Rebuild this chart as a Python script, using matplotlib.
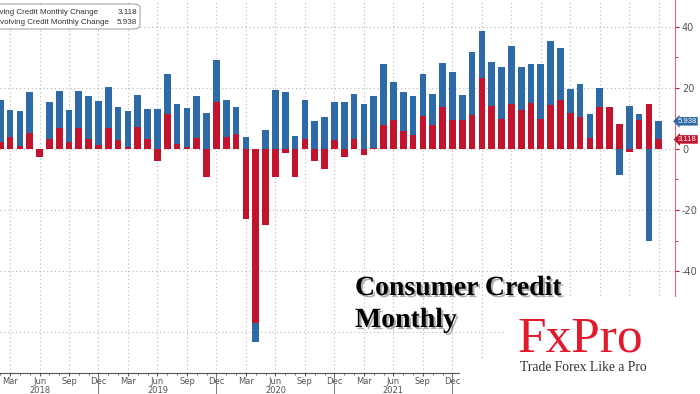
import numpy as np
import matplotlib
matplotlib.use("Agg")
import matplotlib.pyplot as plt
import matplotlib.patheffects as pe
from matplotlib.patches import FancyBboxPatch, Rectangle
from matplotlib.lines import Line2D

# month index: 0 = Jan 2018 ... bars run Feb 2018 -> Sep 2023
months = list(range(1, 69))
revolving = [2.4, 3.9, 1.1, 5.2, -2.5, 3.1, 6.8, 2.4, 7.0, 3.4, 1.2,
             7.0, 3.0, 0.8, 7.1, 3.2, -3.8, 11.4, 1.5, 0.8, 3.5, -9.3, 15.5,
             3.9, 4.9, -23.0, -57.0, -24.9, -9.1, -1.2, -9.1, 3.2, -3.8, -6.6, 2.8,
             -2.7, 3.1, -2.0, 0.3, 8.0, 9.4, 6.0, 4.7, 10.8, 8.0, 13.9, 9.6,
             9.5, 11.1, 23.2, 14.1, 9.9, 14.8, 12.8, 15.2, 9.7, 14.3, 16.1, 11.7,
             10.6, 3.7, 13.8, 13.8, 8.1, -1.1, 9.6, 14.7, 3.118]
nonrevolving = [13.7, 8.9, 11.4, 13.3, 0.0, 12.3, 12.2, 10.5, 12.0, 13.9, 14.5,
                13.3, 10.7, 11.5, 10.6, 10.0, 13.0, 13.2, 13.1, 12.5, 14.0, 11.8, 13.5,
                12.2, 9.0, 3.8, -6.3, 6.1, 19.2, 18.8, 4.2, 13.0, 9.0, 10.4, 12.5,
                15.3, 14.8, 14.6, 16.9, 19.9, 12.5, 12.6, 12.5, 13.7, 9.9, 14.3, 15.5,
                8.2, 20.8, 15.6, 14.5, 17.1, 19.0, 14.0, 12.7, 18.2, 21.2, 16.9, 8.0,
                10.6, 7.7, 6.1, 0.0, -8.4, 14.1, 1.8, -30.2, 5.938]
month_names = ["Mar", "Jun", "Sep", "Dec"]
years = ["2018", "2019", "2020", "2021"]

RED = "#c3142d"
BLUE = "#2e6aa8"
W, H = 700, 394

fig = plt.figure(figsize=(7, 3.94), dpi=100)
ax = fig.add_axes([0, 21 / H, 675 / W, 1 - 21 / H])

x = np.array(months)
r = np.array(revolving)
n = np.array(nonrevolving)
n_bottom = np.where(n >= 0, np.maximum(r, 0), np.minimum(r, 0))

# grid
for m in range(2, 69, 3):
    ax.axvline(m, color="#b8b8b8", lw=0.8, ls=(0, (1, 2.5)), zorder=0)
for v in range(-60, 41, 20):
    ax.axhline(v, color="#b8b8b8", lw=0.8, ls=(0, (1, 2.5)), zorder=0)

ax.bar(x, r, width=0.68, color=RED, zorder=2)
ax.bar(x, n, bottom=n_bottom, width=0.68, color=BLUE, zorder=2)

ax.set_xlim(0.98, 69.65)
ax.set_ylim(-73.4, 48.8)

for s in ["top", "left"]:
    ax.spines[s].set_visible(False)
ax.spines["right"].set_color("#d46a80")
ax.spines["bottom"].set_color("#555555")
ax.yaxis.tick_right()
ax.set_yticks(range(-60, 41, 20))
ax.set_yticks(range(-70, 41, 10), minor=True)
ax.set_yticklabels([str(v) for v in range(-60, 41, 20)])
ax.tick_params(axis="y", which="both", colors="#c3142d", labelcolor="#555555",
               labelsize=7, length=3, direction="out", pad=2)
ax.tick_params(axis="y", which="minor", length=2)

qticks = [m for m in range(2, 48, 3)]
ax.set_xticks(qticks)
ax.set_xticklabels([month_names[i % 4] for i in range(len(qticks))])
ax.set_xticks(range(1, 69), minor=True)
ax.tick_params(axis="x", which="both", colors="#555555", labelsize=6,
               length=2.5, pad=0.5, direction="out")
ax.tick_params(axis="x", which="minor", length=1.5)

for i, yr in enumerate(years):
    ax.text(5 + 12 * i, -17.5 / 373, yr, transform=ax.get_xaxis_transform(),
            ha="center", va="center", fontsize=6, color="#555555")
for m in [11, 23, 35, 47]:
    ax.add_line(Line2D([m, m], [0, -0.06], transform=ax.get_xaxis_transform(),
                       color="#777777", lw=0.7, clip_on=False))

# last value labels
for val, txt, col in [(r[-1] + n[-1], "5.938", BLUE), (r[-1], "3.118", RED)]:
    ax.text(697 / 675, val, txt, transform=ax.get_yaxis_transform(), ha="right",
            va="center", fontsize=5.6, family="Liberation Sans", color="white",
            clip_on=False, zorder=5,
            bbox=dict(boxstyle="larrow,pad=0.1", fc=col, ec="none"))

# legend box (cut at the left edge)
fig.patches.append(FancyBboxPatch((-20 / W, 1 - 29 / H), 160 / W, 25 / H,
                                  boxstyle="round,pad=0,rounding_size=0.01",
                                  transform=fig.transFigure, fc="white",
                                  ec="#999999", lw=0.7, zorder=5))
fig.text(98 / W, 1 - 12 / H, "Revolving Credit Monthly Change", ha="right",
         va="center", fontsize=5.8, family="Liberation Sans", color="#333333", zorder=6)
fig.text(109 / W, 1 - 22 / H, "Non Revolving Credit Monthly Change", ha="right",
         va="center", fontsize=5.8, family="Liberation Sans", color="#333333", zorder=6)
fig.text(137 / W, 1 - 12 / H, "3.118", ha="right", va="center", fontsize=5.8,
         family="Liberation Sans", color="#333333", zorder=6)
fig.text(137 / W, 1 - 22 / H, "5.938", ha="right", va="center", fontsize=5.8,
         family="Liberation Sans", color="#333333", zorder=6)

# title
shadow = [pe.SimplePatchShadow(offset=(1.5, -1.5), shadow_rgbFace="#777777", alpha=0.6),
          pe.Normal()]
fig.text(355 / W, 1 - 295 / H, "Consumer Credit", family="Liberation Serif",
         weight="bold", fontsize=20, va="baseline", color="black",
         path_effects=shadow, zorder=6)
fig.text(355 / W, 1 - 327 / H, "Monthly", family="Liberation Serif",
         weight="bold", fontsize=20, va="baseline", color="black",
         path_effects=shadow, zorder=6)

# logo block
fig.patches.append(Rectangle((505 / W, 0), 195 / W, 1 - 297 / H,
                             transform=fig.transFigure, fc="white", ec="none", zorder=4))
fig.patches.append(Rectangle((460 / W, 0), 240 / W, 1 - 360 / H,
                             transform=fig.transFigure, fc="white", ec="none", zorder=4))
fig.text(518 / W, 1 - 352 / H, "FxPro", family="Liberation Serif", fontsize=37,
         va="baseline", color="#e3192c", zorder=6)
fig.text(520 / W, 1 - 371 / H, "Trade Forex Like a Pro", family="Liberation Serif",
         fontsize=9.8, va="baseline", color="#333333", zorder=6)

fig.savefig("out.png", dpi=100)
